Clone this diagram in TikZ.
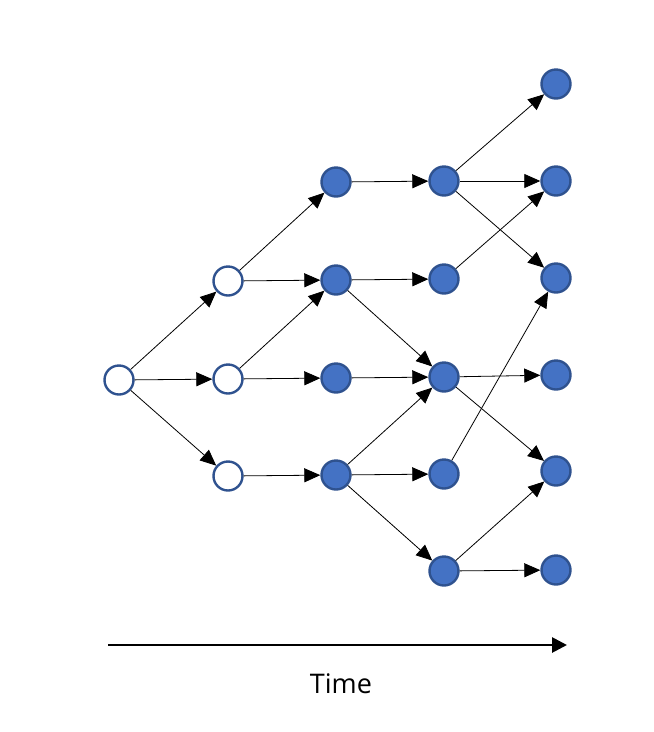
\documentclass[tikz,border=0pt]{standalone}
\usepackage{fontspec}
\setmainfont{Open Sans}
\usetikzlibrary{arrows.meta}

\begin{document}
\begin{tikzpicture}[x=1pt,y=-1pt,
    open/.style={circle, draw=nodeedge, line width=2.4pt, fill=white, minimum size=29pt, inner sep=0pt},
    full/.style={open, fill=nodeblue},
    edge/.style={-{Triangle[length=16pt,width=14pt]}, line width=0.8pt}]
    \definecolor{nodeblue}{HTML}{4472C4}
    \definecolor{nodeedge}{HTML}{2F528F}
    \useasboundingbox (0,0) rectangle (654,732);

    % start
    \node[open] (t0) at (119, 380) {};
    % first step
    \node[open] (a1) at (228, 281) {};
    \node[open] (a2) at (228, 379) {};
    \node[open] (a3) at (228, 476) {};
    % second step
    \node[full] (b1) at (336, 182) {};
    \node[full] (b2) at (336, 280) {};
    \node[full] (b3) at (336, 378) {};
    \node[full] (b4) at (336, 475) {};
    % third step
    \node[full] (c1) at (444, 181) {};
    \node[full] (c2) at (444, 279) {};
    \node[full] (c3) at (444, 377) {};
    \node[full] (c4) at (444, 474) {};
    \node[full] (c5) at (444, 571) {};
    % fourth step
    \node[full] (d1) at (556, 84) {};
    \node[full] (d2) at (556, 181) {};
    \node[full] (d3) at (556, 278) {};
    \node[full] (d4) at (556, 375) {};
    \node[full] (d5) at (556, 471) {};
    \node[full] (d6) at (556, 570) {};

    \draw[edge] (t0) -- (a1);
    \draw[edge] (t0) -- (a2);
    \draw[edge] (t0) -- (a3);

    \draw[edge] (a1) -- (b1);
    \draw[edge] (a1) -- (b2);
    \draw[edge] (a2) -- (b2);
    \draw[edge] (a2) -- (b3);
    \draw[edge] (a3) -- (b4);

    \draw[edge] (b1) -- (c1);
    \draw[edge] (b2) -- (c2);
    \draw[edge] (b2) -- (c3);
    \draw[edge] (b3) -- (c3);
    \draw[edge] (b4) -- (c3);
    \draw[edge] (b4) -- (c4);
    \draw[edge] (b4) -- (c5);

    \draw[edge] (c1) -- (d1);
    \draw[edge] (c1) -- (d2);
    \draw[edge] (c1) -- (d3);
    \draw[edge] (c2) -- (d2);
    \draw[edge] (c3) -- (d4);
    \draw[edge] (c3) -- (d5);
    \draw[edge] (c4) -- (d3);
    \draw[edge] (c5) -- (d5);
    \draw[edge] (c5) -- (d6);

    % time axis
    \coordinate (s) at (108, 645);
    \coordinate (e) at (567, 645);
    \draw[-{Triangle[length=15pt,width=15pt]}, line width=2.8pt] (s) -- (e);
    \node[font=\fontsize{27}{31}\selectfont] (time) at (341, 684) {Time};
\end{tikzpicture}
\end{document}
